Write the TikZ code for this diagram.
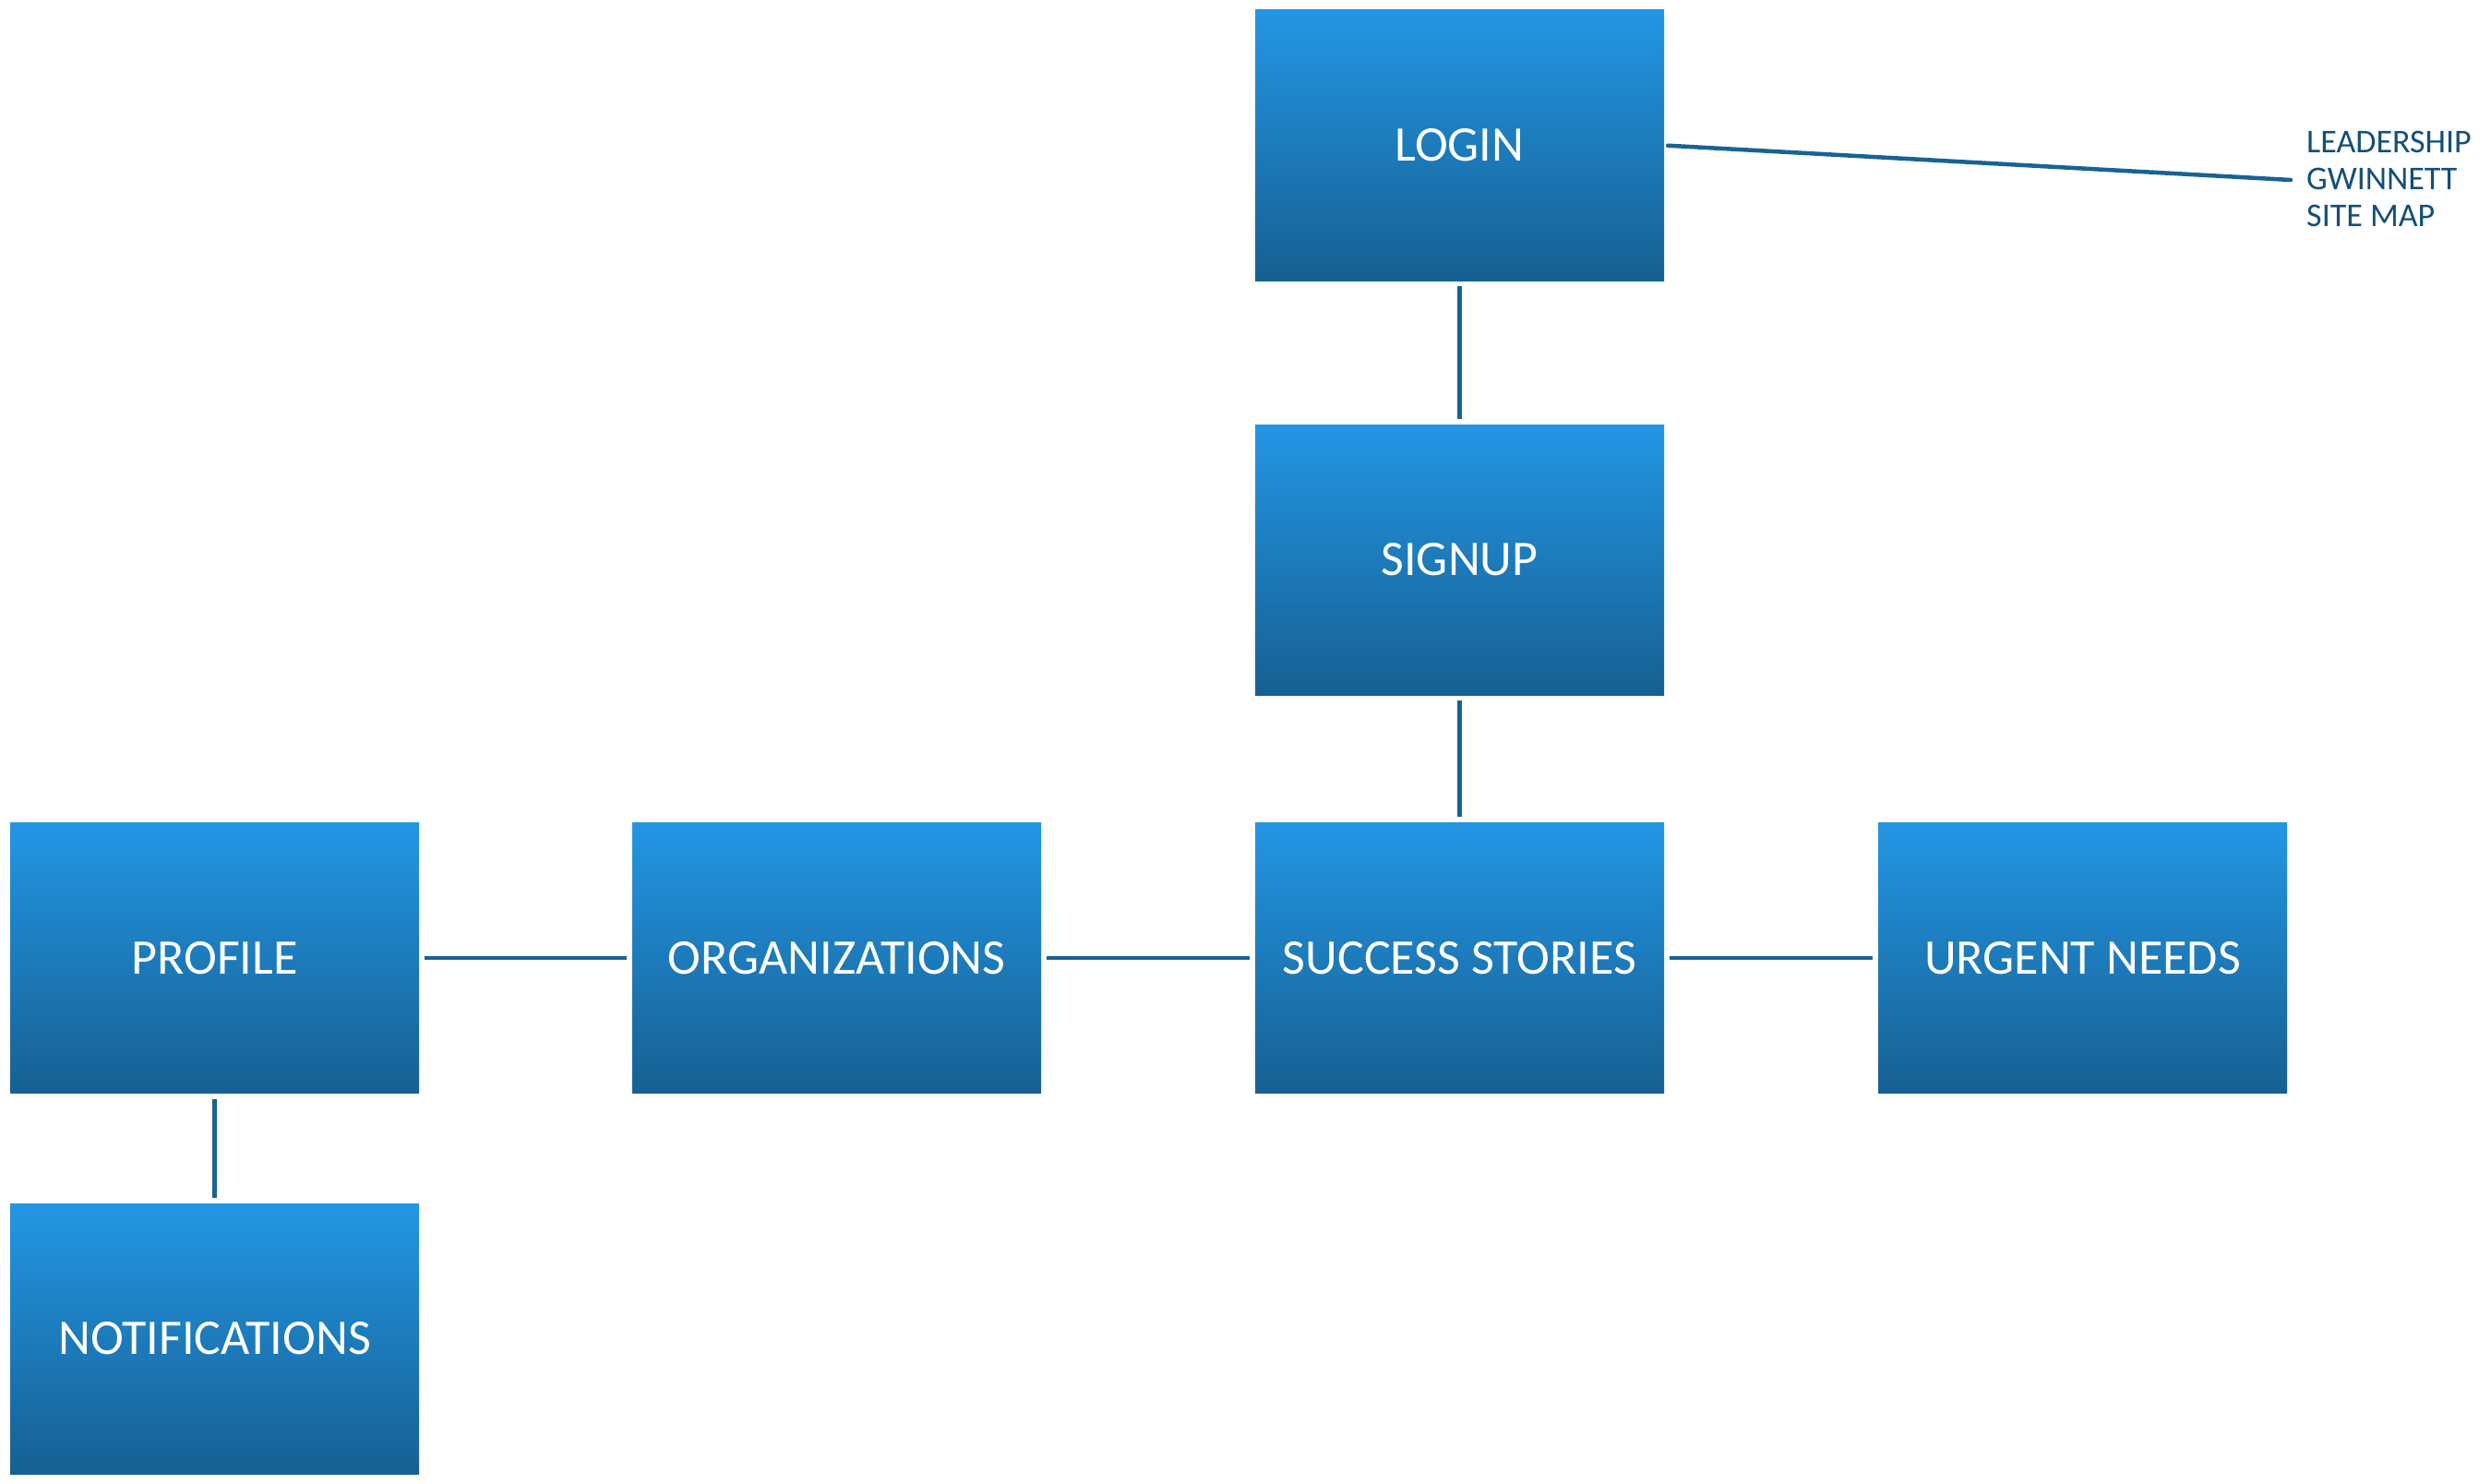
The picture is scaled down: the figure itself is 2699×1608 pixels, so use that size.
\documentclass[tikz,border=0pt]{standalone}
\usepackage{fontspec}
\setmainfont{Carlito}
\definecolor{boxtop}{RGB}{35,150,228}
\definecolor{boxbot}{RGB}{22,96,146}
\definecolor{linkc}{RGB}{24,98,150}
\definecolor{labc}{RGB}{19,79,122}
\begin{document}
\begin{tikzpicture}[x=1pt,y=-1pt,
  pagebox/.style={rectangle, inner sep=0pt, minimum width=443pt, minimum height=293pt,
    top color=boxtop, bottom color=boxbot, text=white,
    font=\fontsize{54}{62}\selectfont},
  link/.style={draw=linkc, line width=4.5pt, shorten >=6pt, shorten <=6pt}]
\useasboundingbox (0,0) rectangle (2699,1608);
\node[pagebox] (login) at (1581.5,157.5) {LOGIN};
\node[pagebox] (signup) at (1581.5,606.5) {SIGNUP};
\node[pagebox] (success) at (1581.5,1038) {SUCCESS STORIES};
\node[pagebox] (profile) at (232.5,1038) {PROFILE};
\node[pagebox] (orgs) at (906.5,1038) {ORGANIZATIONS};
\node[pagebox] (urgent) at (2256.5,1038) {URGENT NEEDS};
\node[pagebox] (notif) at (232.5,1450.5) {NOTIFICATIONS};
\node[anchor=west, inner sep=0pt, align=left, text=labc,
  font=\fontsize{36}{40}\selectfont] (title) at (2499,194)
  {LEADERSHIP\\GWINNETT\\SITE MAP};
\coordinate (tend) at (2482,195);
\draw[link] (login) -- (signup);
\draw[link] (signup) -- (success);
\draw[link] (profile) -- (orgs);
\draw[link] (orgs) -- (success);
\draw[link] (success) -- (urgent);
\draw[link] (profile) -- (notif);
\draw[draw=linkc, line width=4.5pt, line cap=round, shorten <=4pt] (login.east) -- (tend);
\end{tikzpicture}
\end{document}
